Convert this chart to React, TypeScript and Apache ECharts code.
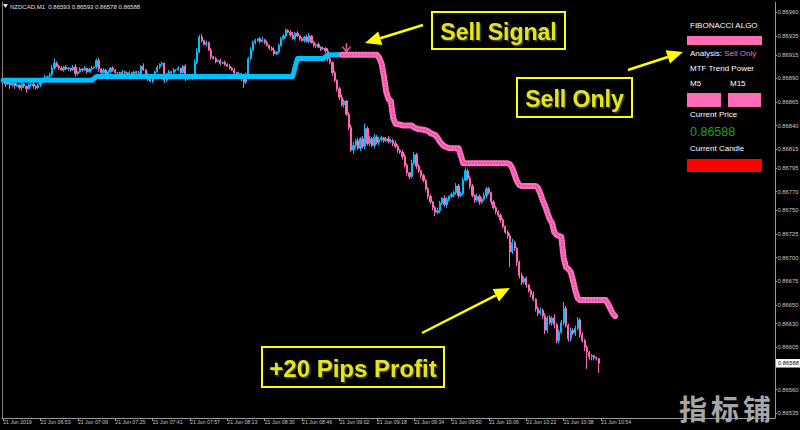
import React, { useEffect, useRef } from "react";
import * as echarts from "echarts";

// ---------- data (prices in points above 0.86000) ----------
const PRICE_BASE = 0.86;
const POINT = 0.00001;
const firstOpenPts = 887;

const closePts = [
  886, 884, 887, 883, 885, 882, 883, 880, 884, 882, 879, 883, 884, 882, 880, 883,
  886, 889, 891, 892, 894, 901, 906, 903, 901, 899, 902, 900, 901, 899, 902, 895,
  897, 900, 899, 901, 897, 900, 901, 902, 909, 900, 896, 899, 894, 897, 901, 899,
  896, 896, 895, 897, 896, 894, 896, 895, 897, 896, 895, 903, 899, 894, 889, 887,
  892, 897, 902, 905, 906, 888, 895, 897, 896, 899, 899, 901, 896, 903, 890, 892,
  890, 893, 907, 918, 934, 930, 926, 928, 920, 913, 911, 908, 909, 906, 907, 905,
  903, 901, 899, 896, 893, 895, 890, 886, 894, 911, 920, 928, 930, 932, 929, 931,
  928, 925, 922, 920, 916, 918, 925, 932, 935, 941, 939, 936, 932, 938, 935, 932,
  930, 934, 929, 935, 928, 925, 926, 923, 921, 922, 919, 911, 907, 896, 888, 879,
  870, 862, 866, 852, 838, 814, 819, 824, 816, 826, 818, 837, 821, 826, 819, 828,
  822, 825, 827, 824, 826, 823, 824, 821, 818, 814, 812, 807, 798, 790, 786, 800,
  809, 797, 792, 787, 782, 773, 765, 759, 753, 748, 750, 758, 763, 756, 762, 765,
  767, 769, 776, 766, 768, 782, 792, 784, 776, 766, 761, 765, 759, 762, 766, 773,
  769, 759, 753, 749, 745, 740, 733, 727, 723, 706, 716, 710, 695, 681, 674, 678,
  671, 665, 661, 656, 646, 641, 644, 638, 623, 636, 631, 636, 629, 612, 621, 631,
  646, 628, 614, 623, 620, 625, 634, 618, 612, 605, 600, 595, 596, 594, 593, 588,
];

const wickUpPts = [
  2, 1, 3, 1, 2, 0, 2, 1, 3, 1, 0, 2, 1, 2, 1, 2,
  1, 2, 3, 1, 2, 3, 5, 2, 1, 2, 1, 2, 1, 0, 2, 3,
  1, 2, 1, 2, 0, 1, 2, 1, 2, 3, 1, 2, 1, 2, 1, 2,
  1, 0, 1, 2, 1, 1, 2, 0, 1, 1, 2, 1, 3, 1, 2, 1,
  2, 1, 2, 1, 2, 1, 1, 2, 1, 2, 1, 2, 0, 1, 2, 1,
  1, 2, 3, 4, 2, 3, 1, 2, 1, 2, 1, 2, 1, 2, 1, 2,
  1, 2, 1, 2, 1, 2, 1, 3, 2, 2, 3, 2, 2, 1, 2, 3,
  1, 2, 1, 2, 3, 1, 2, 2, 2, 2, 1, 2, 3, 1, 2, 1,
  2, 1, 2, 3, 1, 2, 1, 2, 1, 2, 1, 3, 2, 1, 2, 1,
  2, 3, 2, 1, 2, 3, 4, 2, 3, 2, 3, 5, 2, 3, 2, 3,
  2, 3, 2, 1, 2, 3, 2, 2, 3, 2, 1, 2, 3, 2, 1, 4,
  3, 2, 2, 1, 2, 1, 2, 2, 1, 2, 3, 2, 1, 3, 2, 1,
  2, 2, 3, 2, 2, 3, 4, 2, 3, 2, 1, 3, 2, 2, 3, 2,
  2, 1, 2, 2, 1, 2, 2, 1, 2, 3, 4, 2, 1, 2, 3, 2,
  2, 1, 2, 3, 1, 2, 3, 2, 3, 2, 3, 2, 4, 2, 3, 3,
  7, 3, 2, 3, 2, 3, 3, 2, 3, 2, 2, 1, 2, 1, 1, 0,
];

const wickDownPts = [
  2, 3, 1, 4, 2, 3, 1, 2, 3, 2, 4, 1, 2, 3, 2, 1,
  2, 1, 1, 2, 1, 1, 2, 1, 2, 1, 2, 1, 2, 2, 1, 3,
  2, 1, 2, 1, 2, 1, 2, 1, 2, 3, 2, 1, 3, 2, 1, 2,
  1, 2, 1, 1, 2, 1, 1, 2, 1, 2, 1, 2, 1, 4, 2, 1,
  2, 1, 1, 2, 1, 3, 2, 1, 2, 1, 2, 1, 2, 1, 3, 2,
  1, 2, 1, 2, 1, 2, 1, 2, 1, 3, 1, 2, 1, 2, 1, 2,
  1, 2, 1, 2, 3, 2, 3, 6, 2, 1, 2, 1, 2, 1, 2, 1,
  2, 1, 2, 1, 2, 1, 2, 1, 1, 2, 1, 2, 1, 2, 1, 2,
  1, 2, 1, 2, 1, 2, 3, 1, 2, 1, 2, 3, 2, 3, 2, 3,
  3, 2, 3, 2, 3, 2, 4, 3, 2, 3, 2, 3, 2, 3, 2, 3,
  2, 3, 2, 2, 1, 2, 2, 3, 2, 3, 2, 3, 2, 3, 3, 2,
  2, 3, 2, 3, 2, 2, 3, 2, 3, 4, 2, 3, 2, 2, 3, 2,
  2, 3, 2, 3, 2, 2, 1, 2, 3, 2, 3, 2, 3, 2, 2, 3,
  2, 3, 2, 3, 2, 3, 2, 2, 3, 16, 2, 3, 4, 3, 3, 2,
  3, 2, 3, 2, 3, 3, 2, 3, 4, 3, 2, 3, 4, 3, 3, 2,
  3, 2, 3, 3, 2, 3, 2, 3, 2, 4, 18, 3, 4, 3, 2, 10,
];

// indicator vertices [bar index, points]
const blueLinePts: [number, number][] = [
  [0, 888], [38, 888], [40, 892], [124, 892], [125, 902], [126, 911],
  [137, 911], [138, 913], [139, 915], [145, 915],
];
const pinkLinePts: [number, number][] = [
  [145, 915], [160, 915], [161, 912], [162, 906], [163, 893], [164, 876], [165, 868],
  [166, 866], [167, 848], [168, 842], [170, 841], [171, 840], [175, 840], [176, 838],
  [178, 836], [179, 836], [181, 835], [182, 834], [183, 832], [185, 830], [186, 827],
  [187, 823], [188, 820], [189, 818], [190, 817], [191, 816], [195, 816], [196, 808],
  [197, 800], [216, 800], [217, 799], [218, 795], [219, 788], [220, 781], [221, 777],
  [222, 776], [228, 776], [229, 774], [230, 768], [231, 761], [232, 755], [233, 748],
  [234, 741], [235, 737], [236, 727], [237, 724], [239, 722], [240, 700], [241, 690],
  [242, 688], [243, 685], [244, 676], [245, 665], [246, 657], [247, 655], [258, 655],
  [259, 651], [260, 646], [261, 641], [262, 638],
];
const sellArrowPt: [number, number] = [147, 922];
const lastPrice = 0.86588;

const yTickLabels = [
  "0.86960", "0.86935", "0.86915", "0.86890", "0.86865", "0.86840", "0.86815",
  "0.86795", "0.86770", "0.86750", "0.86725", "0.86700", "0.86675", "0.86650",
  "0.86630", "0.86605", "0.86560", "0.86535",
];
const xTickLabels = [
  "21 Jun 2019", "21 Jun 06:53", "21 Jun 07:09", "21 Jun 07:25", "21 Jun 07:41",
  "21 Jun 07:57", "21 Jun 08:13", "21 Jun 08:30", "21 Jun 08:46", "21 Jun 09:02",
  "21 Jun 09:18", "21 Jun 09:34", "21 Jun 09:50", "21 Jun 10:06", "21 Jun 10:22",
  "21 Jun 10:38", "21 Jun 10:54",
];
const LABEL_STEP = 16;
const TOTAL_SLOTS = 331;

const titleText = "NZDCAD,M1  0.86593 0.86593 0.86578 0.86588";
const watermarkChars = ["指", "标", "铺"];

// ---------- helpers ----------
const px = (p: number) => +(PRICE_BASE + p * POINT).toFixed(5);
const FONT = '"Liberation Sans", Arial, sans-serif';
const BLUE = "#00bfff";
const PINK = "#ff69b4";
const YEL = "#ffff00";

export default function App() {
  const ref = useRef<HTMLDivElement>(null);
  useEffect(() => {
    document.body.style.margin = "0";
    document.body.style.background = "#000";
    const chart = echarts.init(ref.current!, null, { renderer: "svg" });

    const candles = closePts.map((c, i) => {
      const o = i === 0 ? firstOpenPts : closePts[i - 1];
      const hi = Math.max(o, c) + (wickUpPts[i] ?? 1);
      const lo = Math.min(o, c) - (wickDownPts[i] ?? 1);
      return [px(o), px(c), px(lo), px(hi)];
    });
    const categories = Array.from({ length: TOTAL_SLOTS }, (_, i) => String(i));
    const yTickValues = yTickLabels.map(Number);
    const showX = (i: number) => i % LABEL_STEP === 0 && i / LABEL_STEP < xTickLabels.length;

    const boxText = (x: number, y: number, w: number, h: number, text: string, size: number) => [
      { type: "rect", z: 50, shape: { x, y, width: w, height: h }, style: { fill: "#000", stroke: YEL, lineWidth: 2 } },
      {
        type: "text", z: 51, x: x + w / 2, y: y + h / 2 + 1,
        style: {
          text, fill: "#e4e41e", font: `bold ${size}px ${FONT}`, textAlign: "center", textVerticalAlign: "middle",
          textShadowColor: "rgba(70,70,70,0.9)", textShadowBlur: 1, textShadowOffsetX: 1.5, textShadowOffsetY: 1.5,
        },
      },
    ];
    const arrow = (t: number[], base: number[], tip: number[], c1: number[], c2: number[]) => [
      { type: "line", z: 50, shape: { x1: t[0], y1: t[1], x2: base[0], y2: base[1] }, style: { stroke: YEL, lineWidth: 2.5 } },
      { type: "polygon", z: 50, shape: { points: [tip, c1, c2] }, style: { fill: YEL } },
    ];
    const panelText = (x: number, y: number, text: string, extra: any = {}) => ({
      type: "text", z: 60, x, y,
      style: { text, fill: "#ffffff", font: `8px ${FONT}`, textVerticalAlign: "middle", ...extra },
    });

    const option: any = {
      animation: false,
      backgroundColor: "#000",
      grid: { left: 2, right: 25, top: 2, bottom: 12, containLabel: false, outerBoundsMode: "none" },
      xAxis: {
        type: "category",
        data: categories,
        boundaryGap: true,
        axisLine: { show: true, lineStyle: { color: "#9a9a9a", width: 1 } },
        axisTick: { show: true, interval: (i: number) => showX(i), alignWithLabel: true, length: 3, lineStyle: { color: "#9a9a9a" } },
        axisLabel: {
          interval: (i: number) => showX(i),
          formatter: (_v: string, i: number) => xTickLabels[i / LABEL_STEP] ?? "",
          align: "left", color: "#c8c8c8", fontSize: 5.2, margin: 1.5, fontFamily: FONT,
        },
        splitLine: { show: false },
      },
      yAxis: [
        {
          type: "value", position: "right", min: 0.8653, max: 0.86971, scale: true,
          axisLine: { show: true, lineStyle: { color: "#9a9a9a", width: 1 } },
          axisTick: { show: true, length: 2, customValues: yTickValues, lineStyle: { color: "#9a9a9a" } },
          axisLabel: {
            customValues: yTickValues,
            formatter: (v: number) => v.toFixed(5),
            color: "#c8c8c8", fontSize: 5.8, margin: 2.5, fontFamily: FONT,
          },
          splitLine: { show: false },
        },
        {
          type: "value", position: "left", min: 0.8653, max: 0.86971, scale: true,
          axisLine: { show: true, lineStyle: { color: "#808080", width: 1 } },
          axisTick: { show: false }, axisLabel: { show: false }, splitLine: { show: false },
        },
      ],
      series: [
        {
          type: "candlestick",
          yAxisIndex: 0,
          data: candles,
          barWidth: 1.7,
          itemStyle: {
            color: BLUE, color0: PINK, borderColor: BLUE, borderColor0: PINK,
            borderColorDoji: "#7a9a1a", borderWidth: 1,
          },
          z: 2,
        },
        {
          type: "line", yAxisIndex: 0, showSymbol: false, symbol: "none",
          data: blueLinePts.map(([i, p]) => [i, px(p)]),
          lineStyle: { color: BLUE, width: 5, cap: "round", join: "round" },
          z: 5,
        },
        {
          type: "line", yAxisIndex: 0, showSymbol: false, symbol: "none",
          data: pinkLinePts.map(([i, p]) => [i, px(p)]),
          lineStyle: { color: "#ff6ebd", width: 6, cap: "round", join: "round" },
          z: 5,
        },
        {
          type: "line", yAxisIndex: 0, showSymbol: false, symbol: "none",
          data: pinkLinePts.map(([i, p]) => [i, px(p)]),
          lineStyle: { color: "#c8418e", width: 1.4, type: [1.5, 1.5], join: "round" },
          z: 6,
        },
        {
          type: "scatter", yAxisIndex: 0,
          data: [[sellArrowPt[0], px(sellArrowPt[1])]],
          symbol: "path://M4,0 L6,0 L6,6 L9.5,2.5 L10,4 L5,10 L0,4 L0.5,2.5 L4,6 Z",
          symbolSize: [9, 10],
          itemStyle: { color: PINK },
          z: 7,
        },
      ],
      graphic: [
        // title
        { type: "polygon", z: 60, shape: { points: [[3, 4], [8, 4], [5.5, 8]] }, style: { fill: "#dcdcdc" } },
        { type: "text", z: 60, x: 10, y: 6.5, style: { text: titleText, fill: "#e0e0e0", font: `6px ${FONT}`, textVerticalAlign: "middle" } },
        // annotation boxes
        ...boxText(432, 12, 133, 37, "Sell Signal", 23),
        ...boxText(517, 78, 115, 39, "Sell Only", 23),
        ...boxText(262, 347, 182, 40, "+20 Pips Profit", 24),
        // arrows
        ...arrow([423, 25], [380.3, 38.3], [365, 43], [378.2, 31.6], [382.4, 45.0]),
        ...arrow([628, 70], [667.8, 57.0], [683, 52], [670.0, 63.6], [665.6, 50.3]),
        ...arrow([422, 333], [495.8, 295.3], [510, 288], [499.0, 301.5], [492.6, 289.1]),
        // right panel
        panelText(690, 25, "FIBONACCI ALGO"),
        { type: "rect", z: 60, shape: { x: 687, y: 36, width: 75, height: 9 }, style: { fill: "#ff6eb4" } },
        {
          type: "text", z: 60, x: 690, y: 53,
          style: {
            text: "{w|Analysis: }{p|Sell Only}", textVerticalAlign: "middle",
            rich: {
              w: { fill: "#ffffff", font: `8px ${FONT}` },
              p: { fill: "#ff69b4", font: `8px ${FONT}` },
            },
          },
        },
        panelText(690, 68, "MTF Trend Power"),
        panelText(690, 83, "M5"),
        panelText(730, 83, "M15"),
        { type: "rect", z: 60, shape: { x: 687, y: 93, width: 34, height: 14 }, style: { fill: "#ff6eb4" } },
        { type: "rect", z: 60, shape: { x: 728, y: 93, width: 33, height: 14 }, style: { fill: "#ff6eb4" } },
        panelText(690, 114, "Current Price"),
        panelText(690, 132, "0.86588", { fill: "#1ea01e", font: `12.5px ${FONT}` }),
        panelText(690, 148, "Current Candle"),
        { type: "rect", z: 60, shape: { x: 687, y: 159, width: 75, height: 13 }, style: { fill: "#ff0000" } },
        // watermark
        ...watermarkChars.map((ch, k) => ({
          type: "text", z: 100, x: 679 + k * 32, y: 408,
          style: { text: ch, fill: "#a6a6a6", font: `bold 28px "Noto Sans CJK SC", sans-serif`, textVerticalAlign: "middle" },
        })),
      ],
    };

    chart.setOption(option);

    // current-price tag on the price scale, placed through the axis's own scale
    const yPix = chart.convertToPixel({ yAxisIndex: 0 }, lastPrice) as number;
    chart.setOption({
      graphic: [
        {
          id: "priceTag", type: "text", z: 90, x: 776, y: yPix,
          style: {
            text: lastPrice.toFixed(5), fill: "#000000", font: `5.8px ${FONT}`,
            textVerticalAlign: "middle", backgroundColor: "#ffffff", padding: [1.5, 2, 1, 2],
          },
        },
      ],
    });

    return () => chart.dispose();
  }, []);

  return (
    <div
      ref={ref}
      style={{ position: "absolute", left: 0, top: 0, width: 800, height: 430, background: "#000" }}
    />
  );
}
